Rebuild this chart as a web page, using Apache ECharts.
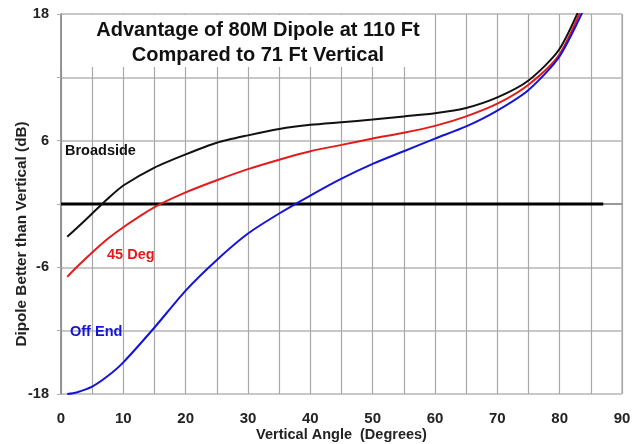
<!DOCTYPE html>
<html>
<head>
<meta charset="utf-8">
<script src="https://cdn.jsdelivr.net/npm/echarts@6/dist/echarts.min.js"></script>
<style>
  html, body { margin: 0; padding: 0; background: #fff; }
  #chart { width: 632px; height: 444px; }
</style>
</head>
<body>
<div id="chart"></div>
<script>
/* values */
var angles = [1, 2.5, 5, 7.5, 10, 15, 20, 25, 30, 35, 40, 45, 50, 55, 60, 65, 70, 75, 80, 85];
var broadside = [-3.1, -2.3, -0.9, 0.5, 1.75, 3.45, 4.7, 5.8, 6.5, 7.1, 7.5, 7.75, 8.0, 8.3, 8.6, 9.1, 10.1, 11.7, 14.7, 21.0];
var deg45 = [-6.9, -6.0, -4.6, -3.3, -2.2, -0.3, 1.1, 2.25, 3.3, 4.2, 5.0, 5.6, 6.2, 6.75, 7.4, 8.3, 9.5, 11.3, 14.2, 20.6];
var offEnd = [-18.0, -17.85, -17.3, -16.3, -15.0, -11.7, -8.2, -5.3, -2.8, -0.9, 0.8, 2.4, 3.8, 5.0, 6.2, 7.35, 8.85, 10.8, 14.0, 19.9];
var zeroX = [0, 87];
var zeroY = [0, 0];
var xTickLabels = [0, 10, 20, 30, 40, 50, 60, 70, 80, 90];
var yTickLabels = [18, 6, -6, -18];

var font = "'Liberation Sans', Arial, sans-serif";

function pairs(xs, ys) {
  return xs.map(function (x, i) { return [x, ys[i]]; });
}

var dom = document.getElementById("chart");
var myChart = echarts.init(dom, null, { renderer: "canvas" });

var option = {
  animation: false,
  backgroundColor: "#fff",
  title: {
    text: "Advantage of 80M Dipole at 110 Ft\nCompared to 71 Ft Vertical",
    left: 258,
    top: 18.5,
    padding: 0,
    textAlign: "center",
    textStyle: { fontFamily: font, fontSize: 20, fontWeight: "bold", color: "#111", lineHeight: 24.5 }
  },
  grid: {
    left: 61, right: 10, top: 14, bottom: 50,
    outerBoundsMode: "none",
    containLabel: false,
    show: true, borderColor: "#999", borderWidth: 1, backgroundColor: "transparent"
  },
  xAxis: {
    type: "value",
    min: 0, max: 90, interval: 5,
    name: "Vertical Angle  (Degrees)",
    nameLocation: "middle",
    nameGap: 33,
    nameMoveOverlap: false,
    nameTextStyle: { fontFamily: font, fontSize: 14.5, fontWeight: "bold", color: "#222" },
    axisLine: { lineStyle: { color: "#888", width: 1.5 } },
    axisTick: { show: true, length: 4, lineStyle: { color: "#aaa" } },
    axisLabel: {
      margin: 17,
      fontFamily: font, fontSize: 15, fontWeight: "bold", color: "#222",
      formatter: function (v) { return xTickLabels.indexOf(v) >= 0 ? String(v) : ""; }
    },
    splitLine: { show: true, lineStyle: { color: "#a8a8a8", width: 1.2 } }
  },
  yAxis: {
    type: "value",
    min: -18, max: 18, interval: 6,
    name: "Dipole Better than Vertical (dB)",
    nameLocation: "middle",
    nameGap: 32,
    nameMoveOverlap: false,
    nameTextStyle: { fontFamily: font, fontSize: 15.3, fontWeight: "bold", color: "#222", padding: [0, 60, 0, 0] },
    axisLine: { show: true, lineStyle: { color: "#888", width: 1.5 } },
    axisTick: { show: true, length: 4, lineStyle: { color: "#aaa" } },
    axisLabel: {
      margin: 12,
      fontFamily: font, fontSize: 14.5, fontWeight: "bold", color: "#222",
      formatter: function (v) { return yTickLabels.indexOf(v) >= 0 ? String(v) : ""; }
    },
    splitLine: { show: true, lineStyle: { color: "#c8c8c8", width: 2 } }
  },
  graphic: [
    { type: "rect", z: 1, shape: { x: 62, y: 15, width: 364, height: 52 }, style: { fill: "#fff" } },
    { type: "text", z: 10, x: 65, y: 151, style: { text: "Broadside", fill: "#111", font: "bold 14.5px " + font, verticalAlign: "middle" } },
    { type: "text", z: 10, x: 107, y: 255, style: { text: "45 Deg", fill: "#e31b1b", font: "bold 14.5px " + font, verticalAlign: "middle" } },
    { type: "text", z: 10, x: 70, y: 332, style: { text: "Off End", fill: "#1414d6", font: "bold 14.5px " + font, verticalAlign: "middle" } }
  ],
  series: [
    {
      name: "zero", type: "line", data: pairs(zeroX, zeroY),
      symbol: "none", lineStyle: { color: "#000", width: 3 }, z: 3
    },
    {
      name: "Broadside", type: "line", data: pairs(angles, broadside),
      symbol: "none", smooth: 0.25, clip: true, lineStyle: { color: "#111", width: 2 }, z: 4
    },
    {
      name: "45 Deg", type: "line", data: pairs(angles, deg45),
      symbol: "none", smooth: 0.25, clip: true, lineStyle: { color: "#e31b1b", width: 2 }, z: 4
    },
    {
      name: "Off End", type: "line", data: pairs(angles, offEnd),
      symbol: "none", smooth: 0.25, clip: true, lineStyle: { color: "#1414d6", width: 2 }, z: 4
    }
  ]
};

myChart.setOption(option);
window.addEventListener("resize", myChart.resize);
</script>
</body>
</html>
